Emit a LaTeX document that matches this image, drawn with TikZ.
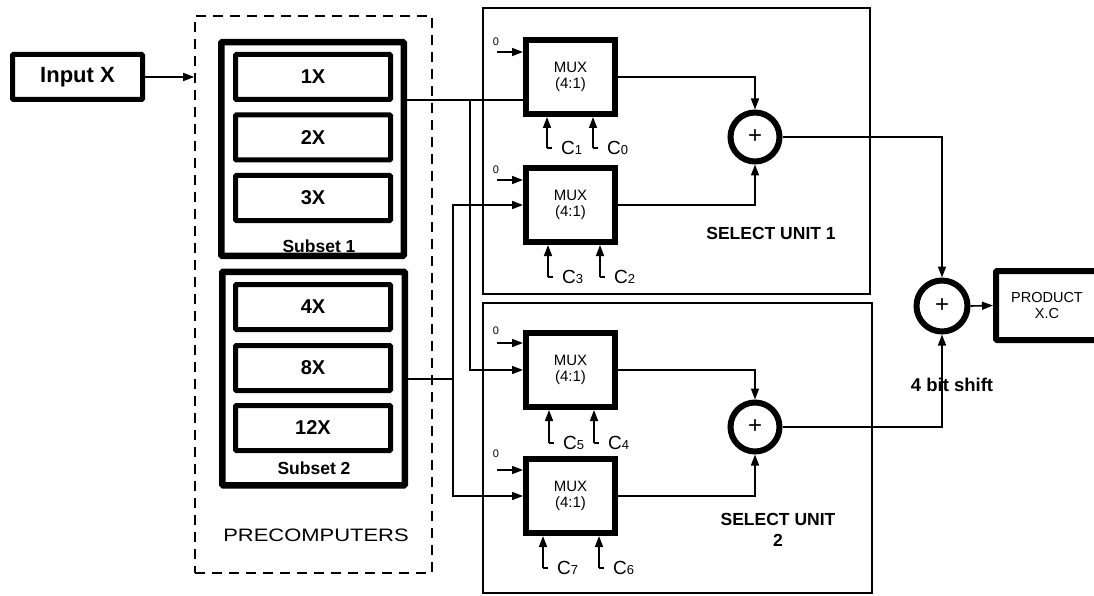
\documentclass[tikz,border=0pt]{standalone}
\usepackage{fontspec}
\setmainfont{Liberation Sans}
\usetikzlibrary{arrows.meta, positioning}
\newcommand{\setfs}[2][0]{\fontsize{#2}{#1}\selectfont}
\newcommand{\csig}[1]{{\setfs{19}C}{\setfs{13}\raisebox{-0.5pt}{#1}}}

\begin{document}
\begin{tikzpicture}[x=1pt, y=-1pt, >={Triangle[length=11pt,width=8pt]},
  wire/.style={line width=1.6pt},
  unitbox/.style={draw, line width=1.7pt, inner sep=0pt},
  multbox/.style={draw, line width=5pt, rounded corners=1pt, minimum width=155, minimum height=45, inner sep=0pt, font=\bfseries\setfs{20}},
  subsetbox/.style={draw, line width=6.5pt, rounded corners=1pt, minimum width=182.5, minimum height=213.5, inner sep=0pt},
  muxbox/.style={draw, line width=6pt, minimum width=89, minimum height=74, inner sep=0pt, align=center, font={\setfs[16]{15}}},
  adder/.style={circle, draw, line width=6pt, minimum size=49, inner sep=0pt, font=\setfs{24}},
  zerolbl/.style={inner sep=0pt, font=\setfs{11}},
  clbl/.style={inner sep=0pt}]
  \useasboundingbox (0,0) rectangle (1094,596);
  \clip (0,0) rectangle (1094,596);
  % select units
  \node[unitbox, minimum width=387, minimum height=286] (su1) at (676.5,151) {};
  \node[unitbox, minimum width=389, minimum height=290] (su2) at (677.5,448) {};
  % input and precomputers
  \node[draw, line width=5pt, rounded corners=1pt, minimum width=130, minimum height=45, font=\bfseries\setfs{22}] (inx) at (77.5,77) {Input X};
  \node[draw, dashed, dash pattern=on 10pt off 7pt, line width=1.6pt, minimum width=237, minimum height=557] (prec) at (313.5,294.5) {};
  \node[font=\setfs{18}] (preclbl) at (316,535) {\scalebox{1.22}[1]{PRECOMPUTERS}};
  \draw[wire,->] (inx.east) -- (prec.west |- inx.east);
  % subset 1
  \node[subsetbox] (sub1) at (312.5,149) {};
  \node[multbox] (x1) at (313,77) {1X};
  \node[multbox] (x2) at (313,137.5) {2X};
  \node[multbox] (x3) at (313,198) {3X};
  \node[font=\bfseries\setfs{17.5}] (sub1lbl) at (319,246) {Subset 1};
  % subset 2
  \node[subsetbox] (sub2) at (313.5,378.5) {};
  \node[multbox] (x4) at (313,307) {4X};
  \node[multbox] (x8) at (313,368) {8X};
  \node[multbox] (x12) at (313,428) {12X};
  \node[font=\bfseries\setfs{17.5}] (sub2lbl) at (314,468) {Subset 2};
  % multiplexers
  \node[muxbox] (m1) at (570.5,77) {MUX\\(4:1)};
  \node[muxbox] (m2) at (570.5,205) {MUX\\(4:1)};
  \node[muxbox] (m3) at (570.5,370) {MUX\\(4:1)};
  \node[muxbox] (m4) at (570.5,496) {MUX\\(4:1)};
  % zero inputs
  \coordinate (z1) at (497,52);
  \coordinate (z2) at (497,180);
  \coordinate (z3) at (497,343);
  \coordinate (z4) at (497,470);
  \node[zerolbl] (z1l) at (496,42) {0};
  \node[zerolbl] (z2l) at (496,170) {0};
  \node[zerolbl] (z3l) at (496,331) {0};
  \node[zerolbl] (z4l) at (496,454) {0};
  \draw[wire,->] (z1) -- (z1 -| m1.west);
  \draw[wire,->] (z2) -- (z2 -| m2.west);
  \draw[wire,->] (z3) -- (z3 -| m3.west);
  \draw[wire,->] (z4) -- (z4 -| m4.west);
  % precomputer outputs
  \coordinate (j1) at (470,100);
  \coordinate (j2) at (453,379);
  \draw[wire] (sub1.east |- j1) -- (m1.west |- j1);
  \draw[wire,->] (j1) |- (m3.west);
  \draw[wire] (sub2.east |- j2) -- (j2);
  \draw[wire,->] (j2) |- (m2.west);
  \draw[wire,->] (j2) |- (m4.west);
  % control signals
  \coordinate (c1) at (547,148);
  \coordinate (c0) at (593,148);
  \coordinate (c3) at (548,277);
  \coordinate (c2) at (600,277);
  \coordinate (c5) at (549,443);
  \coordinate (c4) at (594,443);
  \coordinate (c7) at (543,568);
  \coordinate (c6) at (599,568);
  \draw[wire,->] (c1) -- (c1 |- m1.south);
  \draw[wire,->] (c0) -- (c0 |- m1.south);
  \draw[wire,->] (c3) -- (c3 |- m2.south);
  \draw[wire,->] (c2) -- (c2 |- m2.south);
  \draw[wire,->] (c5) -- (c5 |- m3.south);
  \draw[wire,->] (c4) -- (c4 |- m3.south);
  \draw[wire,->] (c7) -- (c7 |- m4.south);
  \draw[wire,->] (c6) -- (c6 |- m4.south);
  \draw[wire] (c1) -- ++(5,0);
  \draw[wire] (c0) -- ++(5,0);
  \draw[wire] (c3) -- ++(5,0);
  \draw[wire] (c2) -- ++(5,0);
  \draw[wire] (c5) -- ++(5,0);
  \draw[wire] (c4) -- ++(5,0);
  \draw[wire] (c7) -- ++(5,0);
  \draw[wire] (c6) -- ++(5,0);
  \node[clbl, right=14pt of c1] (c1l) {\csig{1}};
  \node[clbl, right=14pt of c0] (c0l) {\csig{0}};
  \node[clbl, right=14pt of c3] (c3l) {\csig{3}};
  \node[clbl, right=14pt of c2] (c2l) {\csig{2}};
  \node[clbl, right=14pt of c5] (c5l) {\csig{5}};
  \node[clbl, right=14pt of c4] (c4l) {\csig{4}};
  \node[clbl, right=14pt of c7] (c7l) {\csig{7}};
  \node[clbl, right=14pt of c6] (c6l) {\csig{6}};
  % adders
  \node[adder] (a1) at (755,137) {+};
  \node[adder] (a2) at (755,427) {+};
  \node[adder, minimum size=51] (a3) at (942,306) {+};
  \draw[wire,->] (m1.east) -| (a1.north);
  \draw[wire,->] (m2.east) -| (a1.south);
  \draw[wire,->] (m3.east) -| (a2.north);
  \draw[wire,->] (m4.east) -| (a2.south);
  \draw[wire,->] (a1.east) -| (a3.north);
  \draw[wire,->] (a2.east) -| (a3.south);
  \node[font=\bfseries\setfs{17.5}] (su1lbl) at (771,233) {SELECT UNIT 1};
  \node[font={\bfseries\setfs[21]{17.5}}, align=center] (su2lbl) at (778,530) {SELECT UNIT\\2};
  \node[font=\bfseries\setfs{18.5}] (shiftlbl) at (952,385) {4 bit shift};
  % product
  \node[draw, line width=6pt, rounded corners=1pt, minimum width=102, minimum height=69, align=center, font={\setfs[16]{14.5}}] (prod) at (1047,305.5) {PRODUCT\\X.C};
  \draw[wire,->] (a3.east) -- (prod.west);
\end{tikzpicture}
\end{document}
